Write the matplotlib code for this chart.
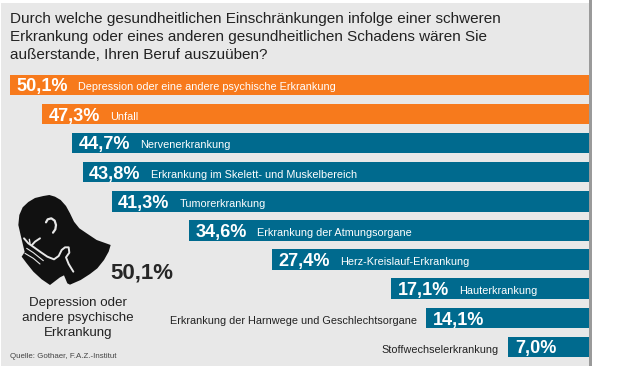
import matplotlib
matplotlib.use('Agg')
import matplotlib.pyplot as plt
from matplotlib.patches import Polygon, Rectangle

labels = ['Depression oder eine andere psychische Erkrankung', 'Unfall', 'Nervenerkrankung',
          'Erkrankung im Skelett- und Muskelbereich', 'Tumorerkrankung', 'Erkrankung der Atmungsorgane',
          'Herz-Kreislauf-Erkrankung', 'Hauterkrankung',
          'Erkrankung der Harnwege und Geschlechtsorgane', 'Stoffwechselerkrankung']
values = [50.1, 47.3, 44.7, 43.8, 41.3, 34.6, 27.4, 17.1, 14.1, 7.0]
value_text = ['50,1%', '47,3%', '44,7%', '43,8%', '41,3%', '34,6%', '27,4%', '17,1%', '14,1%', '7,0%']
colors = ['#f77a1c', '#f77a1c'] + ['#006a8e'] * 8
title = ('Durch welche gesundheitlichen Einschränkungen infolge einer schweren\n'
         'Erkrankung oder eines anderen gesundheitlichen Schadens wären Sie\n'
         'außerstande, Ihren Beruf auszuüben?')

plt.rcParams['font.family'] = ['Liberation Sans', 'DejaVu Sans']
W, H = 624, 387
fig = plt.figure(figsize=(W / 100, H / 100), dpi=100, facecolor='white')

# background layer in pixel coords
bg = fig.add_axes([0, 0, 1, 1])
bg.set_xlim(0, W)
bg.set_ylim(H, 0)
bg.axis('off')
bg.add_patch(Rectangle((1, 3), 588, 363, fc='#e8e8e8', ec='none'))
bg.add_patch(Rectangle((589, 0), 2.5, 366, fc='#9a9a9a', ec='none'))

# bars, value 0 sits at the right edge of the panel
ax = fig.add_axes([0, 0, 1, 1], facecolor='none')
ax.set_xlim(589 / 11.56, -35 / 11.56)
ax.set_ylim(H, 0)
ax.axis('off')
ys = [85, 114, 143, 172, 201.5, 230.5, 259.5, 288.5, 318, 347]
ax.barh(ys, values, height=20.5, color=colors)

for y, v, t, lab in zip(ys, values, value_text, labels):
    if v > 15:
        ax.annotate(t, (v, y), xytext=(6.5, -2), textcoords='offset pixels', color='white', fontsize=13.1,
                    fontweight='bold', va='center', ha='left')
        ax.annotate(lab, (v, y), xytext=(68, -2.5), textcoords='offset pixels', color='white', fontsize=7.8,
                    va='center', ha='left')
    else:
        ax.annotate(t, (v, y), xytext=(7, -2), textcoords='offset pixels', color='white', fontsize=13.1,
                    fontweight='bold', va='center', ha='left')
        ax.annotate(lab, (v, y), xytext=(-9, -3), textcoords='offset pixels', color='#222222', fontsize=7.8,
                    va='center', ha='right')

top = fig.add_axes([0, 0, 1, 1], facecolor='none')
top.set_xlim(0, W)
top.set_ylim(H, 0)
top.axis('off')
top.text(10, 37, title, fontsize=10.95, color='#222222', linespacing=1.34, va='center', ha='left')


# icon outlines, traced on a 3x crop whose corner is at (10, 190)
def px(pts):
    return [(10 + a / 3, 190 + b / 3) for a, b in pts]


head = [(100, 18), (118, 15), (135, 20), (152, 30), (168, 48), (180, 70), (192, 95), (208, 115), (230, 130),
        (260, 150), (302, 165), (296, 185), (282, 210), (262, 235), (240, 252), (212, 270), (180, 284),
        (172, 280), (162, 256), (150, 262), (120, 285), (95, 268), (70, 245), (50, 220), (35, 200),
        (44, 186), (33, 140), (25, 105), (28, 75), (38, 52), (55, 36), (75, 24)]
top.add_patch(Polygon(px(head), closed=True, fc='#111111', ec='none', joinstyle='round'))

eye = [(108, 97), (113, 88), (124, 85), (134, 92), (138, 105), (136, 118), (129, 128)]
hand = [(42, 145), (55, 160), (72, 172), (90, 185), (112, 200), (132, 208), (146, 198), (155, 180), (165, 172),
        (176, 172), (178, 188), (168, 202), (176, 222), (190, 245)]
finger_a = [(50, 175), (70, 188), (100, 212)]
finger_b = [(45, 190), (70, 205), (90, 222)]
finger_c = [(58, 148), (60, 160)]
finger_d = [(90, 145), (75, 155), (66, 165)]
for line, lw in [(eye, 1.6), (hand, 1.4), (finger_a, 0.8), (finger_b, 0.8), (finger_c, 1.0), (finger_d, 1.4)]:
    xs, yv = zip(*px(line))
    top.plot(xs, yv, color='#e8e8e8', lw=lw, solid_capstyle='round')

top.text(110, 273, '50,1%', fontsize=16, color='#111111', va='center', ha='left', fontweight='bold', alpha=0.9)
top.text(78, 318, 'Depression oder\nandere psychische\nErkrankung', fontsize=9.6, color='#222222',
         ha='center', va='center', linespacing=1.36)
top.text(10, 357, 'Quelle: Gothaer, F.A.Z.-Institut', fontsize=5.7, color='#444444', ha='left', va='center')

fig.savefig('out.png', dpi=100)
